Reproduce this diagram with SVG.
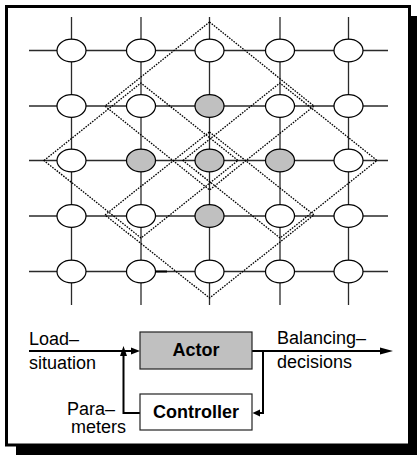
<svg xmlns="http://www.w3.org/2000/svg" width="417" height="455" viewBox="0 0 417 455">
  <style>
    .grid { stroke: #2a2a2a; stroke-width: 1.3; fill: none; }
    .node { fill: #ffffff; stroke: #000; stroke-width: 1.2; }
    .node.active { fill: #c0c0c0; }
    .zone { fill: none; stroke: #000; stroke-width: 1.3; stroke-dasharray: 1.6 1.2; }
    .flow { fill: none; stroke: #000; stroke-width: 2; }
    .box { stroke: #222; stroke-width: 1.2; }
    .lbl { font-family: "Liberation Sans", Arial, sans-serif; font-size: 18px; fill: #000; }
    .blk { font-family: "Liberation Sans", Arial, sans-serif; font-size: 18px; font-weight: bold; fill: #000; }
  </style>

  <!-- frame with drop shadow -->
  <rect x="16" y="16" width="401" height="439" fill="#000"/>
  <rect x="6.5" y="6.5" width="403" height="438.5" fill="#fff" stroke="#000" stroke-width="3"/>

  <!-- grid connections -->
  <g id="grid-links" class="grid">
    <line x1="29" y1="50.5" x2="388" y2="50.5"/>
    <line x1="29" y1="106" x2="388" y2="106"/>
    <line x1="29" y1="160.5" x2="388" y2="160.5"/>
    <line x1="29" y1="216" x2="388" y2="216"/>
    <line x1="29" y1="271.5" x2="388" y2="271.5"/>
    <line x1="71.5" y1="17" x2="71.5" y2="305"/>
    <line x1="141" y1="17" x2="141" y2="305"/>
    <line x1="209.5" y1="17" x2="209.5" y2="305"/>
    <line x1="280" y1="17" x2="280" y2="305"/>
    <line x1="348.5" y1="17" x2="348.5" y2="305"/>
    <line x1="155" y1="271.5" x2="167" y2="271.5" stroke="#000" stroke-width="2"/>
  </g>

  <!-- neighbourhood regions -->
  <g id="regions" class="zone">
    <polygon id="region-top" points="209.5,22 314,106 209.5,190 105,106"/>
    <polygon id="region-bottom" points="209.5,132 314,215 209.5,298 105,215"/>
    <polygon id="region-left" points="44,160.5 141,83 238,160.5 141,238"/>
    <polygon id="region-right" points="183,160.5 280,83 377,160.5 280,238"/>
  </g>

  <!-- processors -->
  <g id="n-r1c1"><ellipse class="node" cx="71.5" cy="50.5" rx="14.5" ry="11.3"/></g>
  <g id="n-r1c2"><ellipse class="node" cx="141" cy="50.5" rx="14.5" ry="11.3"/></g>
  <g id="n-r1c3"><ellipse class="node" cx="209.5" cy="50.5" rx="14.5" ry="11.3"/></g>
  <g id="n-r1c4"><ellipse class="node" cx="280" cy="50.5" rx="14.5" ry="11.3"/></g>
  <g id="n-r1c5"><ellipse class="node" cx="348.5" cy="50.5" rx="14.5" ry="11.3"/></g>

  <g id="n-r2c1"><ellipse class="node" cx="71.5" cy="106" rx="14.5" ry="11.3"/></g>
  <g id="n-r2c2"><ellipse class="node" cx="141" cy="106" rx="14.5" ry="11.3"/></g>
  <g id="n-r2c3"><ellipse class="node active" cx="209.5" cy="106" rx="14.5" ry="11.3"/></g>
  <g id="n-r2c4"><ellipse class="node" cx="280" cy="106" rx="14.5" ry="11.3"/></g>
  <g id="n-r2c5"><ellipse class="node" cx="348.5" cy="106" rx="14.5" ry="11.3"/></g>

  <g id="n-r3c1"><ellipse class="node" cx="71.5" cy="160.5" rx="14.5" ry="11.3"/></g>
  <g id="n-r3c2"><ellipse class="node active" cx="141" cy="160.5" rx="14.5" ry="11.3"/></g>
  <g id="n-r3c3"><ellipse class="node active" cx="209.5" cy="160.5" rx="14.5" ry="11.3"/></g>
  <g id="n-r3c4"><ellipse class="node active" cx="280" cy="160.5" rx="14.5" ry="11.3"/></g>
  <g id="n-r3c5"><ellipse class="node" cx="348.5" cy="160.5" rx="14.5" ry="11.3"/></g>

  <g id="n-r4c1"><ellipse class="node" cx="71.5" cy="216" rx="14.5" ry="11.3"/></g>
  <g id="n-r4c2"><ellipse class="node" cx="141" cy="216" rx="14.5" ry="11.3"/></g>
  <g id="n-r4c3"><ellipse class="node active" cx="209.5" cy="216" rx="14.5" ry="11.3"/></g>
  <g id="n-r4c4"><ellipse class="node" cx="280" cy="216" rx="14.5" ry="11.3"/></g>
  <g id="n-r4c5"><ellipse class="node" cx="348.5" cy="216" rx="14.5" ry="11.3"/></g>

  <g id="n-r5c1"><ellipse class="node" cx="71.5" cy="271.5" rx="14.5" ry="11.3"/></g>
  <g id="n-r5c2"><ellipse class="node" cx="141" cy="271.5" rx="14.5" ry="11.3"/></g>
  <g id="n-r5c3"><ellipse class="node" cx="209.5" cy="271.5" rx="14.5" ry="11.3"/></g>
  <g id="n-r5c4"><ellipse class="node" cx="280" cy="271.5" rx="14.5" ry="11.3"/></g>
  <g id="n-r5c5"><ellipse class="node" cx="348.5" cy="271.5" rx="14.5" ry="11.3"/></g>

  <!-- control loop: signal lines -->
  <g id="loop-links">
    <line class="flow" x1="29" y1="351" x2="132" y2="351"/>
    <polygon points="140,351 131,347.5 131,354.5"/>
    <polyline class="flow" points="140,413 123.5,413 123.5,355"/>
    <polygon points="123.5,346 120,356 127,356"/>
    <line class="flow" x1="252" y1="351" x2="382" y2="351"/>
    <polygon points="393,351 380,347.5 380,354.5"/>
    <polyline class="flow" points="263,351 263,413 259,413"/>
    <polygon points="252.5,413 260,409.5 260,416.5"/>
  </g>

  <g id="actor">
    <rect class="box" x="140" y="332" width="112" height="37" fill="#c0c0c0"/>
    <text class="blk" x="196" y="356" text-anchor="middle">Actor</text>
  </g>
  <g id="controller">
    <rect class="box" x="140" y="394" width="112" height="36" fill="#fff"/>
    <text class="blk" x="196" y="418" text-anchor="middle">Controller</text>
  </g>

  <g id="labels">
    <text class="lbl" x="29" y="345">Load–</text>
    <text class="lbl" x="29" y="369">situation</text>
    <text class="lbl" x="277" y="344">Balancing–</text>
    <text class="lbl" x="277" y="368">decisions</text>
    <text class="lbl" x="67" y="415">Para–</text>
    <text class="lbl" x="71" y="433" font-size="17">meters</text>
  </g>
</svg>
